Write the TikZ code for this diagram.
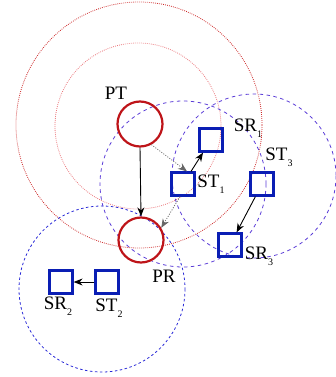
\documentclass[tikz,border=0pt]{standalone}
\usepackage{fontspec}
\setmainfont{Liberation Serif}
\usetikzlibrary{arrows.meta}
\definecolor{pcol}{RGB}{190,20,25}
\definecolor{scol}{RGB}{10,30,180}
\definecolor{redout}{RGB}{205,40,40}
\definecolor{redin}{RGB}{235,120,125}
\definecolor{bluec}{RGB}{40,40,215}
\definecolor{violc}{RGB}{90,60,215}
\newcommand{\mysub}[1]{\raisebox{-0.3em}{\fontsize{10}{10}\selectfont #1}}
\tikzset{
  pnode/.style={circle, draw=pcol, line width=2.2pt, minimum size=45pt, inner sep=0pt},
  snode/.style={rectangle, draw=scol, line width=2.2pt, minimum size=23pt, inner sep=0pt},
  lab/.style={font=\fontsize{19}{21}\selectfont, inner sep=0pt},
  redouter/.style={draw=redout, line width=0.8pt, dash pattern=on 0.8pt off 1.2pt},
  redinner/.style={draw=redin, line width=0.8pt, dash pattern=on 0.8pt off 1.2pt},
  bluering/.style={draw=bluec, line width=0.8pt, dash pattern=on 2.5pt off 2.5pt},
  violring/.style={draw=violc, line width=0.8pt, dash pattern=on 3.5pt off 3.5pt},
  arr/.style={-{Stealth[length=9pt,width=7pt]}, line width=0.9pt, black},
  darr/.style={-{Stealth[length=9pt,width=7pt]}, line width=0.8pt, black!60, dash pattern=on 1pt off 1.5pt},
}
\begin{document}
\begin{tikzpicture}[x=1pt,y=-1pt]
\useasboundingbox (0,0) rectangle (336,377);
% rings
\draw[redouter] (139,125) circle (123);
\draw[redinner] (138,126) circle (83);
\draw[violring] (183,184) circle (83);
\draw[violring] (254,176) circle (82);
\draw[bluering] (102,289) circle (83);
% nodes
\node[pnode] (PT) at (140,124) {};
\node[pnode] (PR) at (141,240) {};
\node[snode] (ST1) at (183,184) {};
\node[snode] (SR1) at (211,140) {};
\node[snode] (ST3) at (262,184) {};
\node[snode] (SR3) at (230,245) {};
\node[snode] (ST2) at (107,282) {};
\node[snode] (SR2) at (61,282) {};
% labels
\node[lab] (lPT) at (116,93) {PT};
\node[lab] (lPR) at (164,276) {PR};
\node[lab] (lSR1) at (248,128) {SR\mysub{1}};
\node[lab] (lST1) at (211,184) {ST\mysub{1}};
\node[lab] (lST3) at (279,157) {ST\mysub{3}};
\node[lab] (lSR3) at (259,256) {SR\mysub{3}};
\node[lab] (lSR2) at (58,306) {SR\mysub{2}};
\node[lab] (lST2) at (109,308) {ST\mysub{2}};
% connectors
\draw[arr] (PT.south) -- (PR.north);
\draw[darr] (PT.-61) -- ([xshift=4pt]ST1.north);
\draw[darr] ([xshift=-3pt]ST1.south) -- (PR.31);
\draw[arr] (ST1) -- (SR1);
\draw[arr] (ST3) -- (SR3);
\draw[arr] (ST2) -- (SR2);
\end{tikzpicture}
\end{document}
